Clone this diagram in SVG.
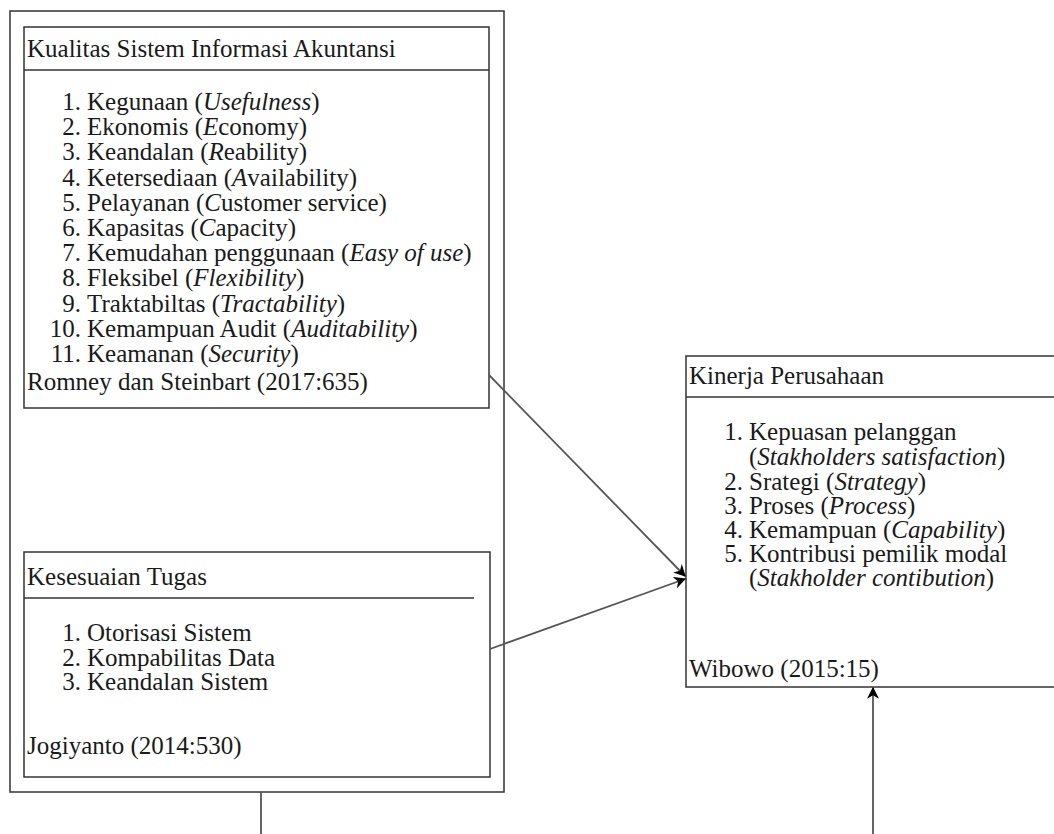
<svg xmlns="http://www.w3.org/2000/svg" width="1054" height="834" viewBox="0 0 1054 834">
<defs>
<style>
.box{fill:#fff;stroke:#333;stroke-width:1.5}
.sep{stroke:#333;stroke-width:1.5}
.t{font-family:"Liberation Serif","Times New Roman",Tinos,"DejaVu Serif",serif;font-size:25px;fill:#1a1a1a}
.n{text-anchor:end}
.i{font-style:italic}
.c{stroke:#555;stroke-width:1.8;fill:none}
</style>
<marker id="arr" viewBox="0 0 10 10" refX="9" refY="5" markerWidth="12" markerHeight="12" markerUnits="userSpaceOnUse" orient="auto">
<path d="M0,0 L10,5 L0,10 L3,5 z" fill="#000"/>
</marker>
</defs>
<rect width="1054" height="834" fill="#fff"/>
<g id="outer">
<rect class="box" x="10" y="11" width="494" height="781"/>
</g>
<g id="kualitas" font-family="Liberation Serif, Times New Roman, serif">
<rect class="box" x="24" y="27" width="465" height="381"/>
<line class="sep" x1="24" y1="70" x2="489" y2="70"/>
<text class="t" x="27" y="57">Kualitas Sistem Informasi Akuntansi</text>
<g class="t">
<text x="81" y="110" class="n">1.</text><text x="87" y="110">Kegunaan (<tspan class="i">Usefulness</tspan>)</text>
<text x="81" y="135" class="n">2.</text><text x="87" y="135">Ekonomis (<tspan class="i">E</tspan>conomy)</text>
<text x="81" y="160" class="n">3.</text><text x="87" y="160">Keandalan (<tspan class="i">R</tspan>eability)</text>
<text x="81" y="186" class="n">4.</text><text x="87" y="186">Ketersediaan (<tspan class="i">A</tspan>vailability)</text>
<text x="81" y="211" class="n">5.</text><text x="87" y="211">Pelayanan (<tspan class="i">C</tspan>ustomer service)</text>
<text x="81" y="236" class="n">6.</text><text x="87" y="236">Kapasitas (<tspan class="i">C</tspan>apacity)</text>
<text x="81" y="261" class="n">7.</text><text x="87" y="261">Kemudahan penggunaan (<tspan class="i">Easy of use</tspan>)</text>
<text x="81" y="286" class="n">8.</text><text x="87" y="286">Fleksibel (<tspan class="i">Flexibility</tspan>)</text>
<text x="81" y="312" class="n">9.</text><text x="87" y="312">Traktabiltas (<tspan class="i">Tractability</tspan>)</text>
<text x="81" y="337" class="n">10.</text><text x="87" y="337">Kemampuan Audit (<tspan class="i">Auditability</tspan>)</text>
<text x="81" y="362" class="n">11.</text><text x="87" y="362">Keamanan (<tspan class="i">Security</tspan>)</text>
</g>
<text class="t" x="27" y="390">Romney dan Steinbart (2017:635)</text>
</g>
<g id="kesesuaian" font-family="Liberation Serif, Times New Roman, serif">
<rect class="box" x="24" y="552" width="466" height="225"/>
<line class="sep" x1="24" y1="598" x2="474" y2="598"/>
<text class="t" x="27" y="585">Kesesuaian Tugas</text>
<g class="t">
<text x="81" y="641" class="n">1.</text><text x="87" y="641">Otorisasi Sistem</text>
<text x="81" y="666" class="n">2.</text><text x="87" y="666">Kompabilitas Data</text>
<text x="81" y="690" class="n">3.</text><text x="87" y="690">Keandalan Sistem</text>
</g>
<text class="t" x="27" y="754">Jogiyanto (2014:530)</text>
</g>
<g id="kinerja" font-family="Liberation Serif, Times New Roman, serif">
<rect class="box" x="686" y="356" width="400" height="331"/>
<line class="sep" x1="686" y1="397" x2="1054" y2="397"/>
<text class="t" x="689" y="384">Kinerja Perusahaan</text>
<g class="t">
<text x="743" y="440" class="n">1.</text><text x="749" y="440">Kepuasan pelanggan</text>
<text x="749" y="465">(<tspan class="i">Stakholders satisfaction</tspan>)</text>
<text x="743" y="490" class="n">2.</text><text x="749" y="490">Srategi (<tspan class="i">Strategy</tspan>)</text>
<text x="743" y="514" class="n">3.</text><text x="749" y="514">Proses (<tspan class="i">Process</tspan>)</text>
<text x="743" y="538" class="n">4.</text><text x="749" y="538">Kemampuan (<tspan class="i">Capability</tspan>)</text>
<text x="743" y="562" class="n">5.</text><text x="749" y="562">Kontribusi pemilik modal</text>
<text x="749" y="586">(<tspan class="i">Stakholder contibution</tspan>)</text>
</g>
<text class="t" x="689" y="677">Wibowo (2015:15)</text>
</g>
<g id="connectors">
<line class="c" x1="489" y1="375" x2="685" y2="576" marker-end="url(#arr)"/>
<line class="c" x1="490" y1="649" x2="685" y2="579" marker-end="url(#arr)"/>
<line class="c" x1="261" y1="792" x2="261" y2="834"/>
<line class="c" x1="873" y1="834" x2="873" y2="688" marker-end="url(#arr)"/>
</g>
</svg>
